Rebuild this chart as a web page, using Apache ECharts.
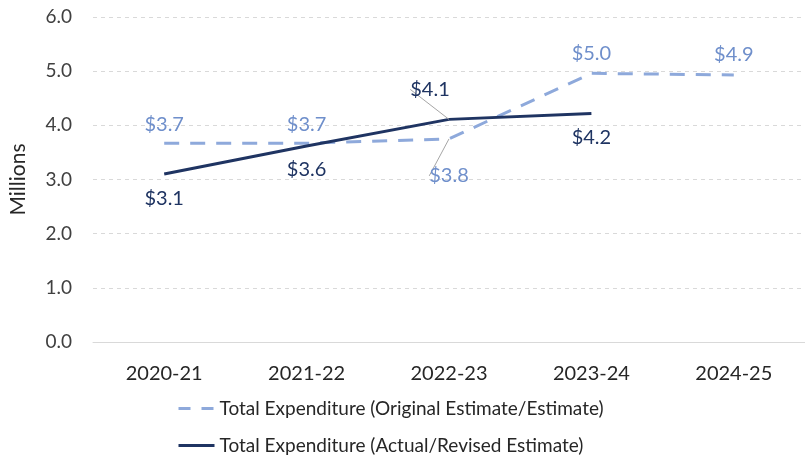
<!DOCTYPE html>
<html>
<head>
<meta charset="utf-8">
<script src="https://cdn.jsdelivr.net/npm/echarts@6/dist/echarts.min.js"></script>
<style>
  html, body { margin: 0; padding: 0; background: #fff; }
  #chart { width: 805px; height: 459px; }
</style>
</head>
<body>
<div id="chart"></div>
<script>
// Fiscal years on the category axis
const years = ['2020-21', '2021-22', '2022-23', '2023-24', '2024-25'];
// Total expenditure, in millions of dollars
const originalEstimate = [3.67, 3.67, 3.75, 4.96, 4.93];
const actualRevised = [3.10, 3.62, 4.11, 4.22, null];
// Value-axis ticks
const yTicks = [0, 1, 2, 3, 4, 5, 6];

const FONT = 'Lato, "Open Sans", sans-serif';
const LIGHT = '#8EA9DB';
const LIGHT_TEXT = '#6F8FCB';
const NAVY = '#1F3462';
const ORIGINAL_NAME = 'Total Expenditure (Original Estimate/Estimate)';
const ACTUAL_NAME = 'Total Expenditure (Actual/Revised Estimate)';

const fmt = v => '$' + v.toFixed(1);

// Label placement per point: [position, distance, dx, dy, leader]
const origLabelPos = [
  ['top', 9, 0, 0, false],
  ['top', 9, 0, 0, false],
  ['bottom', 6, 0, 21, true],
  ['top', 10, 0, 0, false],
  ['top', 10, 0, 0, false]
];
const actLabelPos = [
  ['bottom', 14, 0, 0, false],
  ['bottom', 14, 0, 0, false],
  ['top', 6, -19, -14, true],
  ['bottom', 14, 0, 0, false]
];

function buildData(values, pos, color) {
  return values.map((v, i) => {
    if (v === null) return null;
    const p = pos[i];
    return {
      value: v,
      label: {
        show: true, position: p[0], distance: p[1],
        formatter: () => fmt(v), color: color,
        fontFamily: FONT, fontSize: 20
      },
      labelLine: { show: p[4], lineStyle: { color: '#A6A6A6', width: 1 } }
    };
  });
}

const chart = echarts.init(document.getElementById('chart'));
chart.setOption({
  animation: false,
  backgroundColor: '#fff',
  grid: { left: 91, top: 17, width: 724, height: 325, containLabel: false },
  legend: {
    orient: 'vertical',
    left: 177,
    top: 397,
    padding: 0,
    itemGap: 14,
    itemWidth: 36,
    itemHeight: 14,
    textStyle: { fontFamily: FONT, fontSize: 19, color: '#262626', lineHeight: 23 },
    data: [
      { name: ORIGINAL_NAME, itemStyle: { opacity: 0 }, lineStyle: { type: [12, 11], width: 3 } },
      { name: ACTUAL_NAME, itemStyle: { opacity: 0 }, lineStyle: { width: 3 } }
    ]
  },
  xAxis: {
    type: 'category',
    data: years,
    boundaryGap: true,
    axisLine: { lineStyle: { color: '#D9D9D9', width: 1 } },
    axisTick: { show: false },
    axisLabel: { fontFamily: FONT, fontSize: 20, color: '#262626', margin: 22 }
  },
  yAxis: {
    type: 'value',
    min: yTicks[0],
    max: yTicks[yTicks.length - 1],
    interval: 1,
    name: 'Millions',
    nameLocation: 'middle',
    nameGap: 64,
    nameRotate: 90,
    nameTextStyle: { fontFamily: FONT, fontSize: 21, color: '#262626' },
    axisLine: { show: false },
    axisTick: { show: false },
    splitLine: { lineStyle: { color: '#D9D9D9', type: [4, 4], width: 1 } },
    axisLabel: { fontFamily: FONT, fontSize: 19, color: '#404040', margin: 21, formatter: v => v.toFixed(1) }
  },
  series: [
    {
      name: ORIGINAL_NAME,
      type: 'line',
      data: buildData(originalEstimate, origLabelPos, LIGHT_TEXT),
      symbol: 'circle',
      symbolSize: 0,
      showSymbol: true,
      lineStyle: { color: LIGHT, width: 3, type: [15, 11] },
      itemStyle: { color: LIGHT },
      labelLayout: (params) => {
        const p = origLabelPos[params.dataIndex];
        return { dx: p[2], dy: p[3] };
      },
      z: 2
    },
    {
      name: ACTUAL_NAME,
      type: 'line',
      data: buildData(actualRevised, actLabelPos, NAVY),
      symbol: 'circle',
      symbolSize: 0,
      showSymbol: true,
      connectNulls: false,
      lineStyle: { color: NAVY, width: 3 },
      itemStyle: { color: NAVY },
      labelLayout: (params) => {
        const p = actLabelPos[params.dataIndex];
        return p ? { dx: p[2], dy: p[3] } : {};
      },
      z: 3
    }
  ]
});
</script>
</body>
</html>
